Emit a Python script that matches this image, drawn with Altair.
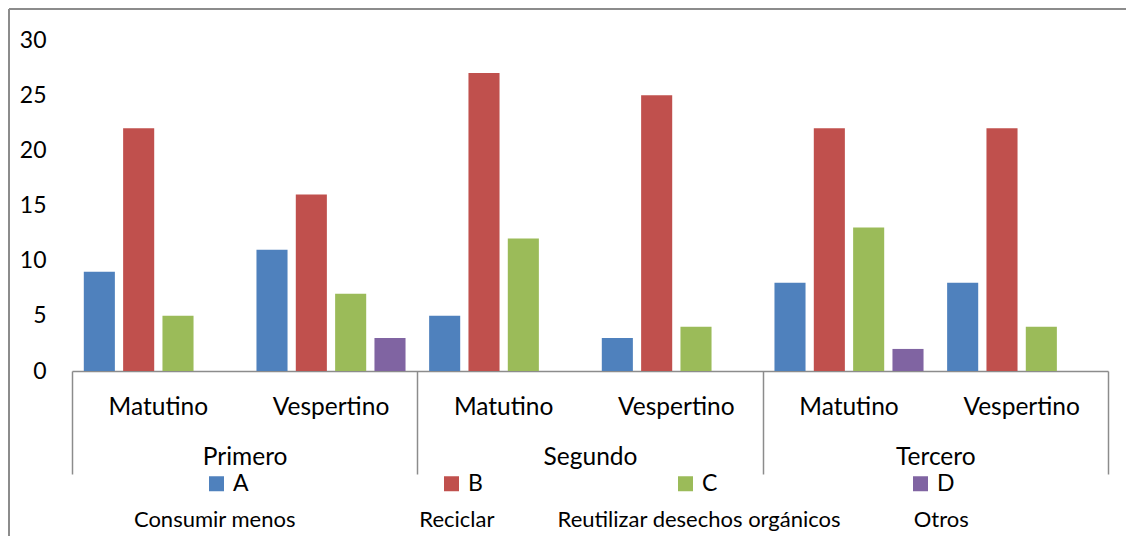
import altair as alt
import pandas as pd

groups = ["Primero", "Segundo", "Tercero"]
shifts = ["Matutino", "Vespertino"]
series = ["A", "B", "C", "D"]
descriptions = ["Consumir menos", "Reciclar", "Reutilizar desechos orgánicos", "Otros"]
colors = ["#4F81BD", "#C0504D", "#9BBB59", "#8064A2"]
# values per (group, shift) in order: Primero-Mat, Primero-Ves, Segundo-Mat, Segundo-Ves, Tercero-Mat, Tercero-Ves
values_A = [9, 11, 5, 3, 8, 8]
values_B = [22, 16, 27, 25, 22, 22]
values_C = [5, 7, 12, 4, 13, 4]
values_D = [0, 3, 0, 0, 2, 0]
y_ticks = [0, 5, 10, 15, 20, 25, 30]

series_values = {"A": values_A, "B": values_B, "C": values_C, "D": values_D}
cats = [f"{g}|{s}" for g in groups for s in shifts]
rows = []
for i, cat in enumerate(cats):
    for s in series:
        rows.append({"cat": cat, "series": s, "value": series_values[s][i]})
df = pd.DataFrame(rows)
grp_df = pd.DataFrame({"group": groups})
desc_df = pd.DataFrame({"desc": descriptions, "pos": list(range(len(descriptions)))})
one = pd.DataFrame({"k": [0]})

W, H = 1036, 331
FONT = "Lato"
FS_AX = 24.5
FS_Y = 23
FS_LEG = 23
FS_DESC = 22
GRAY = "#8c8c8c"

bars = alt.Chart(df).mark_bar().encode(
    x=alt.X("cat:N", sort=cats,
            scale=alt.Scale(type="band", paddingInner=0, paddingOuter=0),
            axis=alt.Axis(title=None, orient="bottom",
                          labelExpr="split(datum.label, '|')[1]",
                          domainColor=GRAY, domainWidth=1.5,
                          ticks=False, tickSize=0,
                          labelPadding=43, labelBaseline="alphabetic",
                          labelFontSize=FS_AX, labelFont=FONT, labelAngle=0,
                          labelColor="#000", labelOverlap=False)),
    xOffset=alt.XOffset("series:N", sort=series,
                        scale=alt.Scale(paddingInner=0.21, paddingOuter=0.30)),
    y=alt.Y("value:Q", scale=alt.Scale(domain=[0, 30], nice=False),
            axis=alt.Axis(title=None, values=y_ticks, domain=False, ticks=False,
                          tickSize=0, grid=False, labelPadding=26,
                          labelFontSize=FS_Y, labelFont=FONT, labelColor="#000")),
    color=alt.Color("series:N", sort=series,
                    scale=alt.Scale(domain=series, range=colors),
                    legend=alt.Legend(title=None, orient="none", legendX=133, legendY=432,
                                      direction="horizontal", columns=4,
                                      columnPadding=191, padding=0,
                                      symbolType="square", symbolSize=225,
                                      symbolStrokeWidth=0, symbolOpacity=1,
                                      labelFontSize=FS_LEG, labelFont=FONT,
                                      labelOffset=5, labelColor="#000")),
)

grp = alt.Chart(grp_df).mark_rule(opacity=0).encode(
    x=alt.X("group:N", sort=groups,
            scale=alt.Scale(type="band", paddingInner=0, paddingOuter=0),
            axis=alt.Axis(title=None, orient="bottom", domain=False,
                          ticks=True, tickBand="extent", tickSize=103,
                          tickColor=GRAY, tickWidth=1.5,
                          labelPadding=-10, labelBaseline="alphabetic",
                          labelFontSize=FS_AX, labelFont=FONT, labelAngle=0,
                          labelColor="#000", labelOverlap=False)),
)

desc = alt.Chart(desc_df).mark_text(fontSize=FS_DESC, font=FONT, align="center",
                                    baseline="alphabetic", color="#000").encode(
    x=alt.X("pos:Q", scale=alt.Scale(domain=[0, 3], range=[142.7, 869.3]), axis=None),
    y=alt.value(487),
    text="desc:N",
)

top_border = alt.Chart(one).mark_rule(color=GRAY, strokeWidth=2).encode(
    x=alt.value(-63), x2=alt.value(W + 18), y=alt.value(-31))
left_border = alt.Chart(one).mark_rule(color=GRAY, strokeWidth=2).encode(
    x=alt.value(-63), y=alt.value(-31), y2=alt.value(H + 165))

chart = alt.layer(bars, grp, desc, top_border, left_border).resolve_scale(
    x="independent"
).properties(
    width=W, height=H,
    autosize=alt.AutoSizeParams(type="none"),
    padding={"left": 64, "top": 32, "right": 18, "bottom": 165},
    background="white",
).configure_view(stroke=None)

chart.save("out.html", embed_options={"renderer": "svg", "actions": False})
